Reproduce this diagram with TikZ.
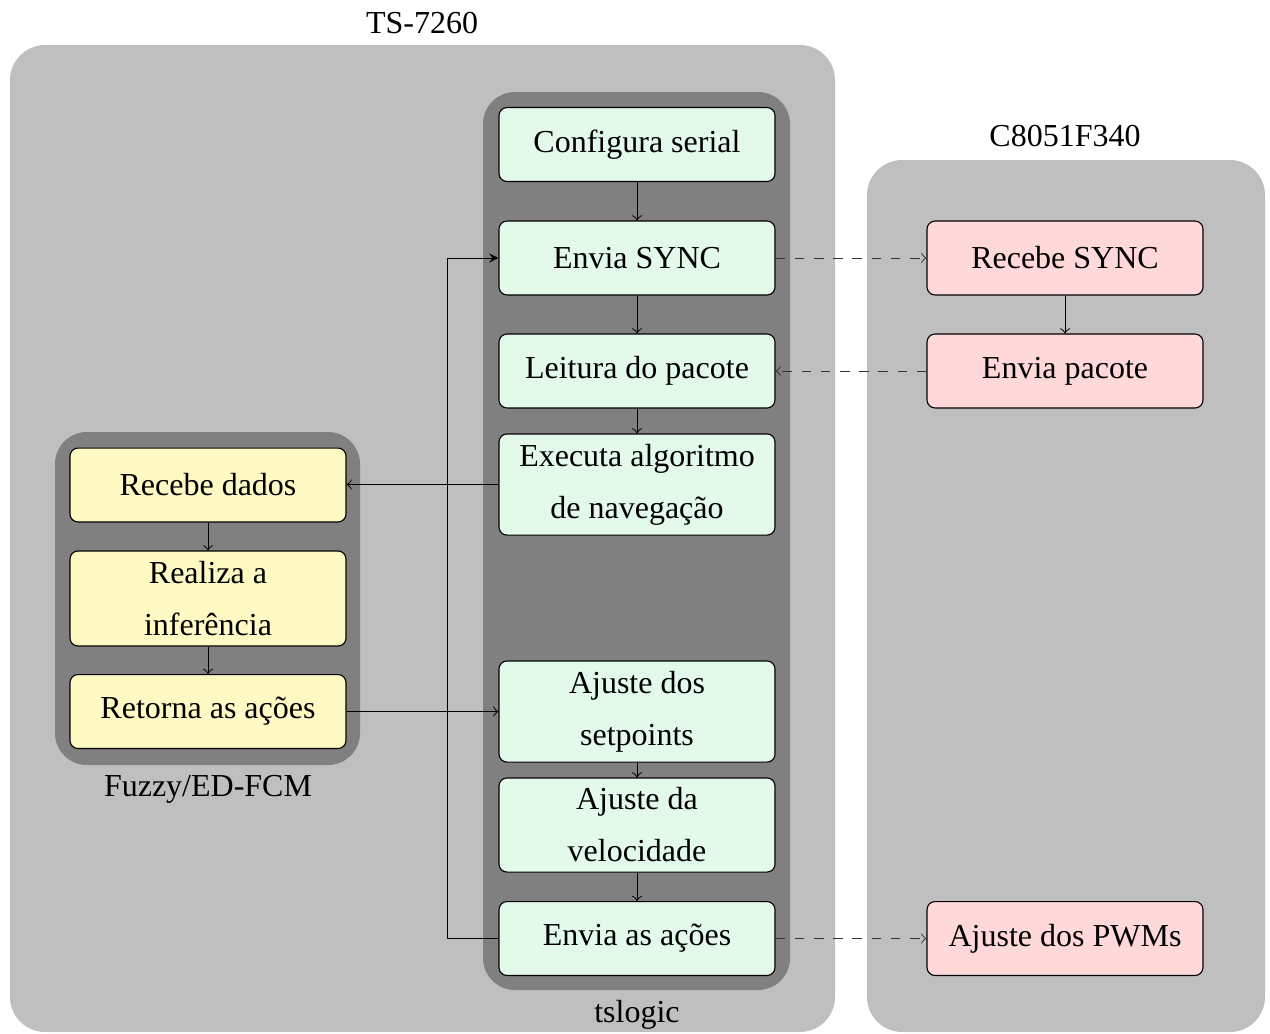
\documentclass[tikz,border=0pt]{standalone}
\usepackage{fontspec}
\setmainfont{Liberation Serif}
\usetikzlibrary{arrows}

\definecolor{verdeclaro}{RGB}{227,249,234}
\definecolor{amareloclaro}{RGB}{255,249,196}
\definecolor{rosaclaro}{RGB}{255,216,218}

\tikzset{
	bloco/.style={draw, line width=0.35pt, rounded corners=2.5pt, align=center, minimum width=86.25pt, minimum height=23.1pt, inner sep=2pt, font=\fontsize{10}{16.25}\selectfont},
	tsbloco/.style={bloco, fill=verdeclaro},
	fzbloco/.style={bloco, fill=amareloclaro},
	mcbloco/.style={bloco, fill=rosaclaro},
	caixa/.style={fill=gray!50, draw=none, rounded corners=11pt},
	subcaixa/.style={fill=gray, draw=none, rounded corners=10pt},
	rotulo/.style={font=\fontsize{10}{12}\selectfont},
	seta/.style={->, line width=0.3pt},
	serial/.style={->, line width=0.3pt, dashed, draw=black!80}
}

\begin{document}
\begin{tikzpicture}[x=0.3125pt, y=-0.3125pt]
		\useasboundingbox (0,0) rectangle (1270,1033);
		\def\xts{637}
		\def\xfz{208}
		\def\xmc{1065}
		% caixas de fundo
		\fill[caixa] (10,45) rectangle (835,1032);
		\fill[caixa] (867,160) rectangle (1265,1032);
		\fill[subcaixa] (483,92) rectangle (790,990);
		\fill[subcaixa] (55,432) rectangle (360,765);
		\node[rotulo] (ts) at (422,23) {TS-7260};
		\node[rotulo] (mc) at (\xmc,136) {C8051F340};
		\node[rotulo] (tsl) at (\xts,1015) {tslogic};
		\node[rotulo] (fz) at (\xfz,789) {Fuzzy/ED-FCM};
		% tslogic
		\node[tsbloco] (conf) at (\xts,144.5) {Configura serial};
		\node[tsbloco] (sync) at (\xts,258) {Envia SYNC};
		\node[tsbloco] (leit) at (\xts,371) {Leitura do pacote};
		\node[tsbloco, minimum height=31.6pt] (exec) at (\xts,484.5) {Executa algoritmo\\de navegação};
		\node[tsbloco, minimum height=31.6pt] (setp) at (\xts,711.5) {Ajuste dos\\setpoints};
		\node[tsbloco, minimum height=29.4pt] (vel) at (\xts,825) {Ajuste da\\velocidade};
		\node[tsbloco] (envi) at (\xts,938.5) {Envia as ações};
		% fuzzy
		\node[fzbloco] (rdad) at (\xfz,485) {Recebe dados};
		\node[fzbloco, minimum height=29.7pt] (real) at (\xfz,598.5) {Realiza a\\inferência};
		\node[fzbloco] (reto) at (\xfz,711.5) {Retorna as ações};
		% microcontrolador
		\node[mcbloco] (rsync) at (\xmc,258) {Recebe SYNC};
		\node[mcbloco] (epac) at (\xmc,371) {Envia pacote};
		\node[mcbloco] (pwm) at (\xmc,938.5) {Ajuste dos PWMs};
		% ligacoes
		\draw[seta] (conf) -- (sync);
		\draw[seta] (sync) -- (leit);
		\draw[seta] (leit) -- (exec);
		\draw[seta] (setp) -- (vel);
		\draw[seta] (vel) -- (envi);
		\draw[seta] (rdad) -- (real);
		\draw[seta] (real) -- (reto);
		\draw[seta] (rsync) -- (epac);
		\draw[seta] (exec.west) -- (rdad.east |- exec.west);
		\draw[seta] (reto.east) -- (setp.west |- reto.east);
		\draw[-stealth, line width=0.3pt] (envi.west) -- ++(-51,0) |- (sync.west);
		\draw[serial] (sync) -- (rsync);
		\draw[serial] (epac) -- (leit);
		\draw[serial] (envi) -- (pwm);
	\end{tikzpicture}
\end{document}
